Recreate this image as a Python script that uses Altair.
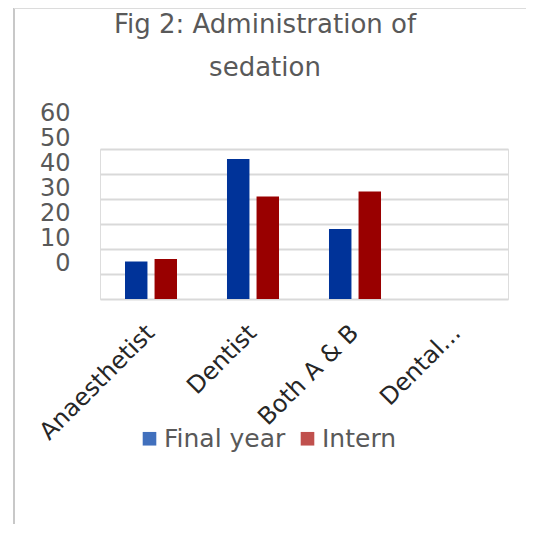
import altair as alt
import pandas as pd

categories = ["Anaesthetist", "Dentist", "Both A & B", "Dental..."]
series = ["Final year", "Intern"]
final_year = [15, 56, 28, 0]
intern = [16, 41, 43, 0]
y_ticks = [0, 10, 20, 30, 40, 50, 60]

rows = []
for c, f, i in zip(categories, final_year, intern):
    rows.append({"category": c, "series": series[0], "value": f})
    rows.append({"category": c, "series": series[1], "value": i})
df = pd.DataFrame(rows)

FONT = "DejaVu Sans"

x_enc = alt.X(
    "category:N",
    sort=categories,
    scale=alt.Scale(paddingInner=0.49, paddingOuter=0.245),
    axis=alt.Axis(
        title=None, labelAngle=-45, labelAlign="right", labelBaseline="middle",
        labelFontSize=24, labelFont=FONT, labelColor="#262626",
        ticks=False, domain=False, grid=False, labelPadding=30,
    ),
)
xoff_enc = alt.XOffset(
    "series:N", sort=series, scale=alt.Scale(paddingInner=0.24, paddingOuter=0)
)
y_enc = alt.Y(
    "value:Q",
    scale=alt.Scale(domain=[0, 60], nice=False),
    axis=alt.Axis(
        values=y_ticks, title=None, ticks=False, domain=False,
        labelPadding=30, labelOffset=-36, labelFontSize=24, labelFont=FONT,
        labelColor="#595959", gridColor="#d9d9d9", gridWidth=2,
        labelOverlap=False, labelFlush=False,
    ),
)

bars = alt.Chart(df).mark_bar().encode(
    x=x_enc,
    xOffset=xoff_enc,
    y=y_enc,
    color=alt.Color(
        "series:N", sort=series,
        scale=alt.Scale(domain=series, range=["#003399", "#990000"]),
        legend=None,
    ),
)

legend_layer = alt.Chart(df).mark_square(size=0).encode(
    x=x_enc,
    xOffset=xoff_enc,
    y=y_enc,
    color=alt.Color(
        "series:N", sort=series,
        scale=alt.Scale(domain=series, range=["#4170bd", "#c0504d"]),
        legend=alt.Legend(
            orient="none", legendX=37, legendY=277, direction="horizontal",
            title=None, symbolType="square", symbolSize=185, symbolOpacity=1,
            symbolStrokeWidth=0, labelFontSize=25, labelFont=FONT,
            labelColor="#595959", columnPadding=9, labelOffset=2,
        ),
    ),
)

frame_df = pd.DataFrame({"a": [0]})
left_border = alt.Chart(frame_df).mark_rule(color="#c8c8c8", strokeWidth=2).encode(
    x=alt.value(-86), y=alt.value(-141), y2=alt.value(380)
)
top_border = alt.Chart(frame_df).mark_rule(color="#dcdcdc", strokeWidth=2).encode(
    x=alt.value(-86), x2=alt.value(440), y=alt.value(-141)
)

chart = alt.layer(left_border, top_border, bars, legend_layer).resolve_scale(
    color="independent"
).properties(
    width=408,
    height=150,
    title=alt.TitleParams(
        text=["Fig 2: Administration of", "sedation"],
        fontSize=26, font=FONT, color="#595959", fontWeight="normal",
        lineHeight=43, anchor="middle", frame="group", dx=-39, dy=78,
    ),
    autosize=alt.AutoSizeParams(type="none"),
    padding={"left": 92, "top": 141, "right": 18, "bottom": 225},
).configure_view(stroke=None).configure(background="white")

chart.save("out.html", embed_options={"renderer": "svg", "actions": False})
